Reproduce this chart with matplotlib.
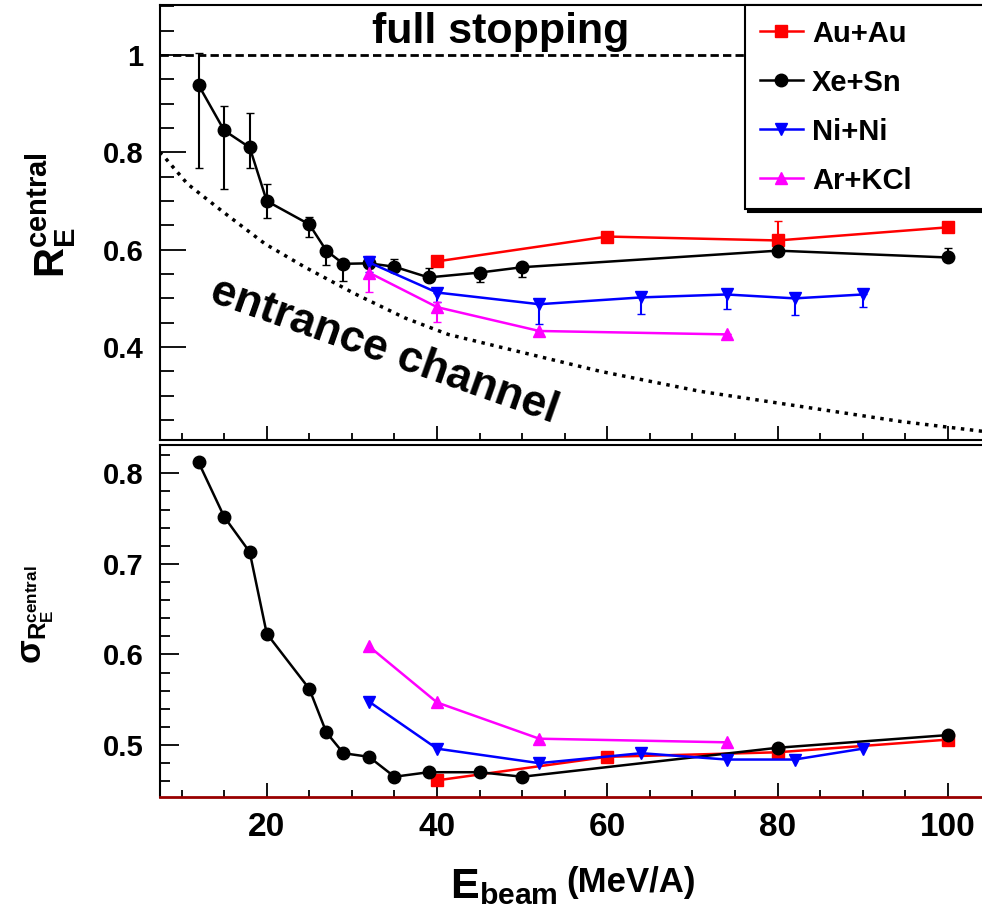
import matplotlib
matplotlib.use("Agg")
import matplotlib.pyplot as plt
from matplotlib.ticker import MultipleLocator, FuncFormatter

# === Fonte ===
plt.rcParams['font.family'] = ['Liberation Sans', 'DejaVu Sans']
plt.rcParams['font.weight'] = 'bold'
plt.rcParams['mathtext.fontset'] = 'custom'
plt.rcParams['mathtext.rm'] = 'Liberation Sans'
plt.rcParams['mathtext.bf'] = 'Liberation Sans:bold'
plt.rcParams['mathtext.it'] = 'Liberation Sans:italic'

# === Dados ===
xe_x = [12, 15, 18, 20, 25, 27, 29, 32, 35, 39, 45, 50, 80, 100]
xe_r = [0.938, 0.845, 0.81, 0.70, 0.652, 0.598, 0.571, 0.572, 0.565, 0.543, 0.553, 0.564, 0.598, 0.584]
xe_lo = [0.17, 0.12, 0.042, 0.035, 0.025, 0.03, 0.035, 0.01, 0.0, 0.0, 0.02, 0.02, 0.01, 0.0]
xe_hi = [0.066, 0.05, 0.07, 0.035, 0.015, 0.01, 0.005, 0.01, 0.015, 0.02, 0.0, 0.0, 0.0, 0.02]
xe_sig = [0.812, 0.752, 0.713, 0.623, 0.562, 0.514, 0.491, 0.487, 0.465, 0.470, 0.470, 0.465, 0.497, 0.511]

au_x = [40, 60, 80, 100]
au_r = [0.576, 0.627, 0.619, 0.646]
au_lo = [0.0, 0.0, 0.0, 0.0]
au_hi = [0.0, 0.0, 0.04, 0.0]
au_sig = [0.461, 0.487, 0.492, 0.506]

ni_x = [32, 40, 52, 64, 74, 82, 90]
ni_r = [0.574, 0.512, 0.488, 0.502, 0.508, 0.500, 0.508]
ni_lo = [0.02, 0.02, 0.04, 0.035, 0.03, 0.035, 0.025]
ni_hi = [0.01, 0.0, 0.0, 0.0, 0.01, 0.0, 0.0]
ni_sig = [0.548, 0.496, 0.480, 0.491, 0.484, 0.484, 0.496]

ar_x = [32, 40, 52, 74]
ar_r = [0.553, 0.482, 0.433, 0.426]
ar_lo = [0.04, 0.03, 0.0, 0.0]
ar_hi = [0.035, 0.01, 0.0, 0.0]
ar_sig = [0.609, 0.547, 0.507, 0.503]

# curva "entrance channel" (pontos lidos)
ent_x = [7.4, 8, 10.7, 14.7, 19.8, 24.5, 30.4, 36.2, 41.3, 47.4, 59.2, 70.9, 82.7, 94.5, 104]
ent_y = [0.80, 0.79, 0.735, 0.68, 0.612, 0.564, 0.509, 0.46, 0.426, 0.40, 0.35, 0.309, 0.278, 0.247, 0.227]

series = [
    ("Au+Au", "#ff0000", "s", au_x, au_r, au_lo, au_hi, au_sig),
    ("Xe+Sn", "black", "o", xe_x, xe_r, xe_lo, xe_hi, xe_sig),
    ("Ni+Ni", "#0000ff", "v", ni_x, ni_r, ni_lo, ni_hi, ni_sig),
    ("Ar+KCl", "#ff00ff", "^", ar_x, ar_r, ar_lo, ar_hi, ar_sig),
]

# === Figura ===
fig = plt.figure(figsize=(9.82, 9.11), dpi=100)
ax1 = fig.add_axes([0.1629, 0.517, 0.8371, 0.4775])
ax2 = fig.add_axes([0.1629, 0.1251, 0.8371, 0.3864])

xmin, xmax = 7.46, 104.0

handles = []
for nome, cor, mk, x, r, lo, hi, sig in series:
    ax1.errorbar(x, r, yerr=[lo, hi], fmt="none", ecolor=cor, elinewidth=1.5, capsize=3, zorder=2)
    ln, = ax1.plot(x, r, color=cor, marker=mk, markersize=9, lw=1.8, label=nome, zorder=3)
    ax2.plot(x, sig, color=cor, marker=mk, markersize=9, lw=1.8, zorder=3)
    handles.append(ln)

ax1.axhline(1.0, color="black", lw=2, ls=(0, (3, 1.5)), zorder=1)
ax1.plot(ent_x, ent_y, color="black", lw=2.5, ls=(0, (1, 1.6)), zorder=1)

ax1.text(47.5, 1.047, "full stopping", fontsize=31, ha="center", va="center")
ax1.text(33.8, 0.392, "entrance channel", fontsize=32, ha="center", va="center",
         rotation=-19.5, rotation_mode="anchor")

ax1.set_xlim(xmin, xmax)
ax1.set_ylim(0.209, 1.1027)
ax2.set_xlim(xmin, xmax)
ax2.set_ylim(0.4426, 0.8312)

fmt = FuncFormatter(lambda v, p: f"{v:g}")
for ax in (ax1, ax2):
    ax.xaxis.set_major_locator(MultipleLocator(20))
    ax.xaxis.set_minor_locator(MultipleLocator(5))
    ax.yaxis.set_major_formatter(fmt)
    ax.spines["right"].set_visible(False)
    for s in ("left", "top", "bottom"):
        ax.spines[s].set_linewidth(1.5)
    ax.tick_params(which="both", direction="in", top=False, right=False, width=1.3)
    ax.tick_params(axis="x", which="major", length=10, pad=11, labelsize=24)
    ax.tick_params(axis="x", which="minor", length=5)

ax1.yaxis.set_major_locator(MultipleLocator(0.2))
ax1.yaxis.set_minor_locator(MultipleLocator(0.05))
ax1.tick_params(axis="y", which="major", length=19, pad=12, labelsize=21)
ax1.tick_params(axis="y", which="minor", length=10)
ax1.tick_params(axis="x", labelbottom=False)

ax2.yaxis.set_major_locator(MultipleLocator(0.1))
ax2.yaxis.set_minor_locator(MultipleLocator(0.02))
ax2.tick_params(axis="y", which="major", length=14, pad=12, labelsize=21)
ax2.tick_params(axis="y", which="minor", length=7)
ax2.spines["bottom"].set_color("#990000")
ax2.spines["bottom"].set_linewidth(2)

# legenda larga, a borda direita fica fora da imagem
leg = ax1.legend(handles=handles, loc="upper left",
                 bbox_to_anchor=(745 / 982, 0.7745, 250 / 982, 0.22),
                 bbox_transform=fig.transFigure, mode="expand", fontsize=21, frameon=True,
                 fancybox=False, shadow={"color": "black", "alpha": 1.0}, edgecolor="black",
                 framealpha=1, borderaxespad=0, borderpad=0.5, labelspacing=0.72,
                 handlelength=1.5, handletextpad=0.3)
leg.get_frame().set_linewidth(1.5)
leg.set_zorder(5)

# === Rotulos ===
fig.text(0.052, 0.764, r"$\mathbf{R}_{\mathbf{E}}^{\mathrm{central}}$", fontsize=30,
         rotation=90, ha="center", va="center")
fig.text(0.039, 0.325, r"$\mathrm{\sigma}_{\mathrm{R}_{\mathrm{E}}^{\mathrm{central}}}$", fontsize=25,
         rotation=90, ha="center", va="center")
fig.text(0.458, 0.0143, r"$\mathbf{E}_{\mathbf{beam}}$", fontsize=31, ha="left", va="baseline")
fig.text(0.577, 0.021, "(MeV/A)", fontsize=25, ha="left", va="baseline")

fig.savefig("out.png", dpi=100)
